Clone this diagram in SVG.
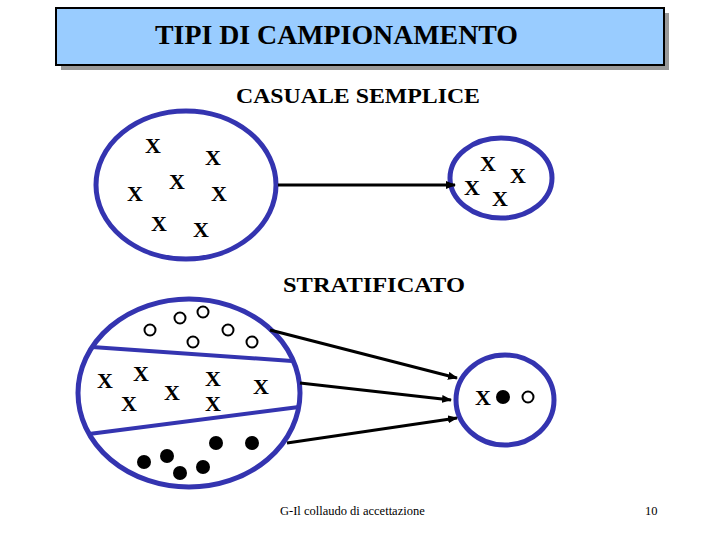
<svg xmlns="http://www.w3.org/2000/svg" width="720" height="540" viewBox="0 0 720 540">
<style>
.t{font-family:"Liberation Serif","Times New Roman",serif;fill:#000}
.b{font-weight:bold}
.x{font-size:22px;text-anchor:middle;font-weight:bold}
.ring{fill:none;stroke:#3434B0;stroke-width:5}
.strat{stroke:#3434B0;stroke-width:4}
.con{stroke:#000;stroke-width:3;fill:none;marker-end:url(#ah)}
.open{fill:#fff;stroke:#000;stroke-width:2}
.dot{fill:#000}
</style>
<defs>
<marker id="ah" markerWidth="10" markerHeight="8" refX="9" refY="4" orient="auto" markerUnits="userSpaceOnUse">
<path d="M0,0 L10,4 L0,8 z" fill="#000"/>
</marker>
</defs>
<rect width="720" height="540" fill="#fff"/>
<g id="title">
<rect x="61" y="13" width="608" height="57" fill="#999"/>
<rect x="56" y="8" width="608" height="57" fill="#99CCFF" stroke="#000" stroke-width="2"/>
<text class="t b" x="155" y="44" font-size="28" textLength="363" lengthAdjust="spacingAndGlyphs">TIPI DI CAMPIONAMENTO</text>
</g>
<text class="t b" x="236" y="103" font-size="21" textLength="244" lengthAdjust="spacingAndGlyphs">CASUALE SEMPLICE</text>
<text class="t b" x="283" y="292" font-size="22" textLength="182" lengthAdjust="spacingAndGlyphs">STRATIFICATO</text>
<g id="population1">
<ellipse class="ring" cx="186" cy="185" rx="90" ry="74"/>
<text class="t x" x="153" y="153">X</text>
<text class="t x" x="213" y="165">X</text>
<text class="t x" x="177" y="189">X</text>
<text class="t x" x="135" y="201">X</text>
<text class="t x" x="219" y="201">X</text>
<text class="t x" x="159" y="231">X</text>
<text class="t x" x="201" y="237">X</text>
</g>
<g id="sample1">
<ellipse class="ring" cx="501" cy="178" rx="51" ry="40"/>
<text class="t x" x="488" y="171">X</text>
<text class="t x" x="518" y="183">X</text>
<text class="t x" x="472" y="195">X</text>
<text class="t x" x="500" y="206">X</text>
</g>
<g id="population2">
<ellipse class="ring" cx="189" cy="393" rx="111" ry="94"/>
<line class="strat" x1="92" y1="347" x2="292" y2="361"/>
<line class="strat" x1="89" y1="434" x2="299" y2="407"/>
<circle class="open" cx="150" cy="330" r="5.5"/>
<circle class="open" cx="180" cy="318" r="5.5"/>
<circle class="open" cx="203" cy="312" r="5.5"/>
<circle class="open" cx="193" cy="342" r="5.5"/>
<circle class="open" cx="228" cy="330" r="5.5"/>
<circle class="open" cx="252" cy="342" r="5.5"/>
<text class="t x" x="105" y="388">X</text>
<text class="t x" x="141" y="381">X</text>
<text class="t x" x="129" y="411">X</text>
<text class="t x" x="172" y="400">X</text>
<text class="t x" x="213" y="386">X</text>
<text class="t x" x="213" y="411">X</text>
<text class="t x" x="261" y="394">X</text>
<circle class="dot" cx="144" cy="462" r="7"/>
<circle class="dot" cx="167" cy="456" r="7"/>
<circle class="dot" cx="180" cy="473" r="7"/>
<circle class="dot" cx="203" cy="467" r="7"/>
<circle class="dot" cx="216" cy="443" r="7"/>
<circle class="dot" cx="252" cy="443" r="7"/>
</g>
<g id="sample2">
<ellipse class="ring" cx="505" cy="400" rx="49" ry="45"/>
<text class="t x" x="483" y="405" font-weight="normal">X</text>
<circle class="dot" cx="503" cy="397" r="7"/>
<circle class="open" cx="528" cy="397" r="5.5"/>
</g>
<g id="connectors">
<line class="con" x1="278" y1="185" x2="455" y2="185"/>
<line class="con" x1="270" y1="330" x2="457" y2="378"/>
<line class="con" x1="300" y1="383" x2="451" y2="400"/>
<line class="con" x1="287" y1="443" x2="457" y2="418"/>
</g>
<text class="t" x="280" y="515" font-size="12.5">G-Il collaudo di accettazione</text>
<text class="t" x="645" y="515" font-size="12.5">10</text>
</svg>
